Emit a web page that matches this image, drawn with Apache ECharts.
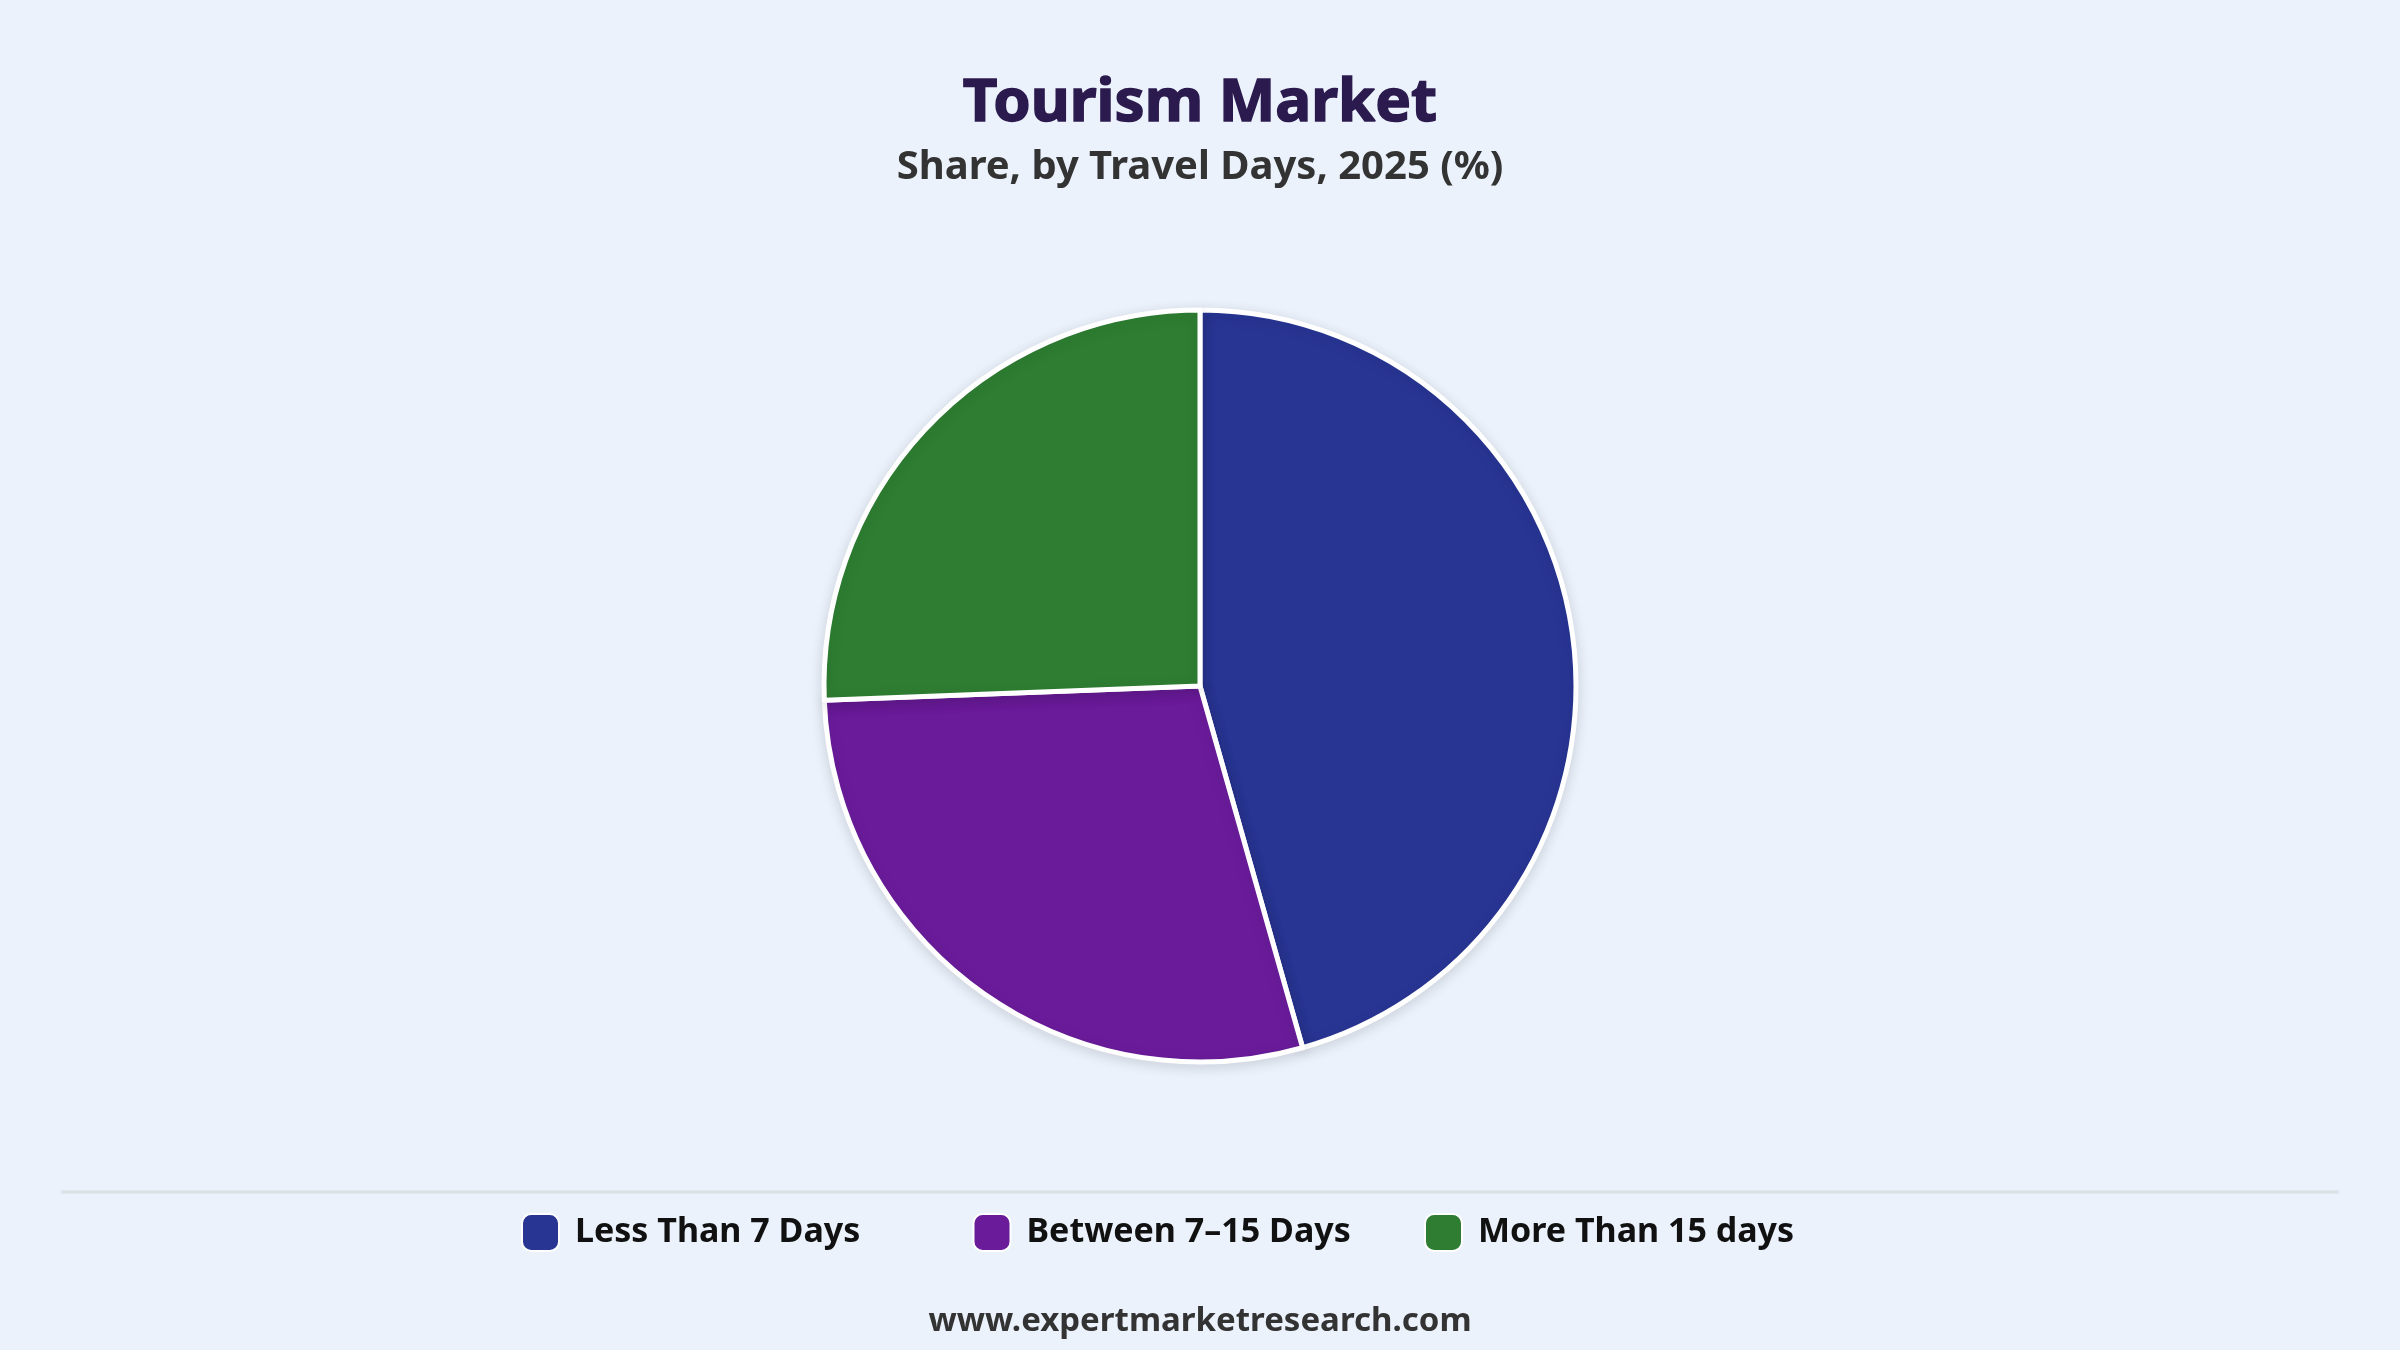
<!DOCTYPE html>
<html>
<head>
<meta charset="utf-8">
<title>Tourism Market</title>
<script src="https://cdn.jsdelivr.net/npm/echarts@6/dist/echarts.min.js"></script>
<style>
  html, body { margin: 0; padding: 0; background: #ebf2fc; }
  #mybox { width: 2400px; height: 1350px; }
</style>
</head>
<body>
<div id="mybox"></div>
<script>
// data
var categories = ['Less Than 7 Days', 'Between 7\u201315 Days', 'More Than 15 days'];
var shares = [45.6, 28.8, 25.6];
var colors = ['#283593', '#6a1b9a', '#2e7d32'];

var fontName = '"Noto Sans", "Open Sans", sans-serif';

var pieData = [];
for (var i = 0; i < categories.length; i++) {
    pieData.push({ name: categories[i], value: shares[i], itemStyle: { color: colors[i] } });
}

// one legend per item so the items sit on an even stride like the original
var legends = [];
for (var j = 0; j < categories.length; j++) {
    legends.push({
        data: [categories[j]],
        left: 521 + j * 451.5,
        top: 1213,
        padding: 0,
        itemWidth: 37,
        itemHeight: 37,
        icon: 'roundRect',
        selectedMode: false,
        textStyle: {
            fontFamily: fontName, fontSize: 34, fontWeight: 'bold', color: '#111111',
            padding: [0, 0, 0, 11]
        }
    });
}

var mycharts = echarts.init(document.getElementById('mybox'));

var optionObj = {
    backgroundColor: '#ebf2fc',
    title: [
        {
            text: 'Tourism Market',
            left: 'center',
            top: 69,
            textStyle: {
                fontFamily: fontName, fontSize: 60, fontWeight: 'bold', color: '#2b1a4d',
                textBorderColor: '#2b1a4d', textBorderWidth: 1.5
            }
        },
        {
            text: 'Share, by Travel Days, 2025 (%)',
            left: 'center',
            top: 143,
            textStyle: { fontFamily: fontName, fontSize: 40, fontWeight: 'bold', color: '#333333' }
        },
        {
            text: 'www.expertmarketresearch.com',
            left: 'center',
            top: 1300,
            textStyle: { fontFamily: fontName, fontSize: 33, fontWeight: 'bold', color: '#333333' }
        }
    ],
    legend: legends,
    graphic: [
        {
            type: 'line',
            shape: { x1: 61, y1: 1192, x2: 2339, y2: 1192 },
            style: { stroke: '#dcdfe3', lineWidth: 3 }
        }
    ],
    series: [
        {
            name: 'Travel Days',
            type: 'pie',
            radius: 376,
            center: [1200, 686],
            startAngle: 90,
            clockwise: true,
            label: { show: false },
            labelLine: { show: false },
            silent: true,
            itemStyle: {
                borderColor: '#ffffff',
                borderWidth: 5,
                shadowBlur: 14,
                shadowColor: 'rgba(0, 0, 0, 0.12)',
                shadowOffsetY: 3
            },
            data: pieData
        }
    ]
};

mycharts.setOption(optionObj);
</script>
</body>
</html>
